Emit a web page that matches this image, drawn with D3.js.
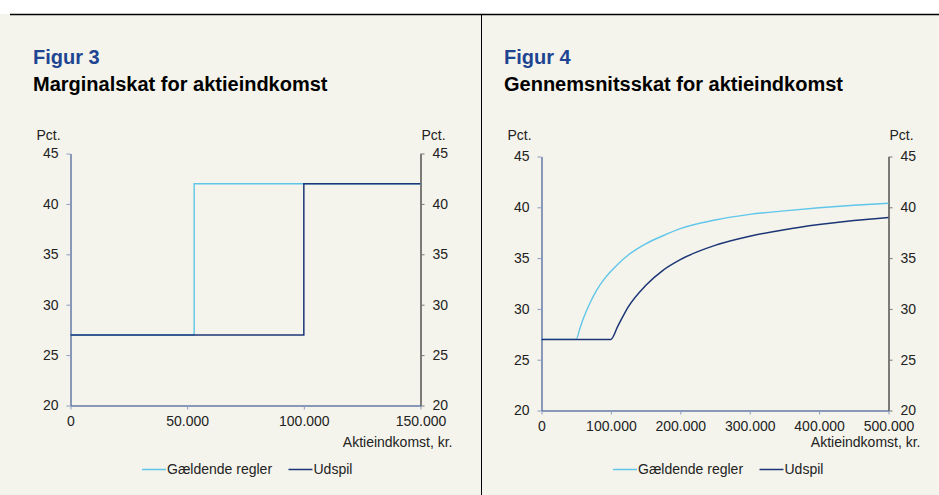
<!DOCTYPE html>
<html>
<head>
<meta charset="utf-8">
<script src="https://cdn.jsdelivr.net/npm/d3@7"></script>
<style>
  body { margin: 0; background: #fff; }
  svg { display: block; font-family: "Liberation Sans", Arial, sans-serif; }
</style>
</head>
<body>
<div id="chart"></div>
<script>
// Figur 3 - marginalskat (trappekurver)
var fig3GaeldendeIncome = [0, 53000, 150000]
var fig3Gaeldende = [27, 42, 42]
var fig3UdspilIncome = [0, 100000, 150000]
var fig3Udspil = [27, 42, 42]
var fig3XTicks = [0, 50000, 100000, 150000]

// Figur 4 - gennemsnitsskat
var fig4Income = [0, 50000, 55000, 60000, 70000, 80000, 90000, 100000, 110000, 125000, 150000, 175000, 200000, 250000, 300000, 350000, 400000, 450000, 500000]
var fig4Gaeldende = [27, 27, 28.0, 29.0, 30.6, 31.9, 32.9, 33.7, 34.4, 35.3, 36.4, 37.2, 37.9, 38.75, 39.3, 39.65, 39.95, 40.2, 40.4]
var fig4Udspil = [27, 27, 27, 27, 27, 27, 27, 27, 28.3, 30.2, 32.3, 33.8, 34.85, 36.25, 37.15, 37.8, 38.3, 38.7, 39.0]
var fig4XTicks = [0, 100000, 200000, 300000, 400000, 500000]

var yTicks = [20, 25, 30, 35, 40, 45]
var seriesNames = ["Gældende regler", "Udspil"]

var colLight = "#5fc6ea"
var colDark = "#1b3576"
var colAxis = "#1d3c86"
var colTick = "#8a9cc0"

var dk = d3.formatLocale({ decimal: ",", thousands: ".", grouping: [3], currency: ["", " kr."] })
var fmt = dk.format(",d")

var svg = d3.select("#chart").append("svg")
  .attr("width", 939)
  .attr("height", 495)

svg.append("rect").attr("x", 0).attr("y", 14).attr("width", 939).attr("height", 481).attr("fill", "#f5f4ec")
svg.append("line").attr("x1", 10).attr("x2", 939).attr("y1", 14.5).attr("y2", 14.5)
  .attr("stroke", "#000").attr("stroke-width", 1.5)
svg.append("line").attr("x1", 481.5).attr("x2", 481.5).attr("y1", 14).attr("y2", 495)
  .attr("stroke", "#000").attr("stroke-width", 1)

function drawPanel(p) {
  var x = d3.scaleLinear().domain([0, p.xMax]).range([p.left, p.right])
  var y = d3.scaleLinear().domain([20, 45]).range([p.bottom, p.top])
  var g = svg.append("g")

  g.append("text").attr("x", p.titleX).attr("y", 64)
    .attr("font-size", "20px").attr("font-weight", "bold").attr("fill", "#1d4592")
    .text(p.fig)
  g.append("text").attr("x", p.titleX).attr("y", 91)
    .attr("font-size", "20px").attr("font-weight", "bold").attr("fill", "#000")
    .text(p.title)

  g.append("text").attr("x", p.left - 34).attr("y", 140)
    .attr("font-size", "14px").attr("fill", "#222").text("Pct.")
  g.append("text").attr("x", p.right + 1).attr("y", 140)
    .attr("font-size", "14px").attr("fill", "#222").text("Pct.")

  // akser
  var left = g.append("g")
    .attr("transform", "translate(" + p.left + ",0)")
    .call(d3.axisLeft(y).tickValues(yTicks).tickSize(4).tickSizeOuter(0).tickPadding(8))
  left.select(".domain").attr("stroke", colAxis)
  left.selectAll(".tick line").attr("stroke", colTick)

  var right = g.append("g")
    .attr("transform", "translate(" + p.right + ",0)")
    .call(d3.axisRight(y).tickValues(yTicks).tickSize(4).tickSizeOuter(0).tickPadding(8))
  right.select(".domain").attr("stroke", "#000")
  right.selectAll(".tick line").attr("stroke", "#777")

  var bottom = g.append("g")
    .attr("transform", "translate(0," + p.bottom + ")")
    .call(d3.axisBottom(x).tickValues(p.xTicks).tickFormat(fmt).tickSize(4).tickSizeOuter(0).tickPadding(7))
  bottom.select(".domain").attr("stroke", colAxis)
  bottom.selectAll(".tick line").attr("stroke", colTick)

  g.selectAll(".tick text").attr("font-size", "14px").attr("fill", "#222")
    .attr("font-family", "Liberation Sans, Arial, sans-serif")

  g.append("text").attr("x", p.right + 32).attr("y", 447)
    .attr("text-anchor", "end").attr("font-size", "14px").attr("fill", "#222")
    .text("Aktieindkomst, kr.")

  // linjer
  var line = d3.line()
    .x(function (d) { return x(d[0]) })
    .y(function (d) { return y(d[1]) })
    .curve(p.curve)

  g.append("path").datum(d3.zip(p.lightX, p.lightY))
    .attr("fill", "none").attr("stroke", colLight).attr("stroke-width", 1.4)
    .attr("d", line)
  g.append("path").datum(d3.zip(p.darkX, p.darkY))
    .attr("fill", "none").attr("stroke", colDark).attr("stroke-width", 1.5)
    .attr("d", line)

  // legend
  var cols = [colLight, colDark]
  var offs = [71.5, 218]
  seriesNames.forEach(function (name, i) {
    g.append("line")
      .attr("x1", p.left + offs[i]).attr("x2", p.left + offs[i] + 24)
      .attr("y1", 469.5).attr("y2", 469.5)
      .attr("stroke", cols[i]).attr("stroke-width", 1.5)
    g.append("text").attr("x", p.left + offs[i] + 25).attr("y", 474)
      .attr("font-size", "14px").attr("fill", "#222").text(name)
  })
}

drawPanel({
  fig: "Figur 3",
  title: "Marginalskat for aktieindkomst",
  titleX: 33,
  left: 70.5, right: 420.5, top: 153.5, bottom: 405.5,
  xMax: 150000,
  xTicks: fig3XTicks,
  curve: d3.curveStepAfter,
  lightX: fig3GaeldendeIncome, lightY: fig3Gaeldende,
  darkX: fig3UdspilIncome, darkY: fig3Udspil
})

drawPanel({
  fig: "Figur 4",
  title: "Gennemsnitsskat for aktieindkomst",
  titleX: 504,
  left: 541.5, right: 888.5, top: 156.5, bottom: 410.5,
  xMax: 500000,
  xTicks: fig4XTicks,
  curve: d3.curveMonotoneX,
  lightX: fig4Income, lightY: fig4Gaeldende,
  darkX: fig4Income, darkY: fig4Udspil
})
</script>
</body>
</html>
